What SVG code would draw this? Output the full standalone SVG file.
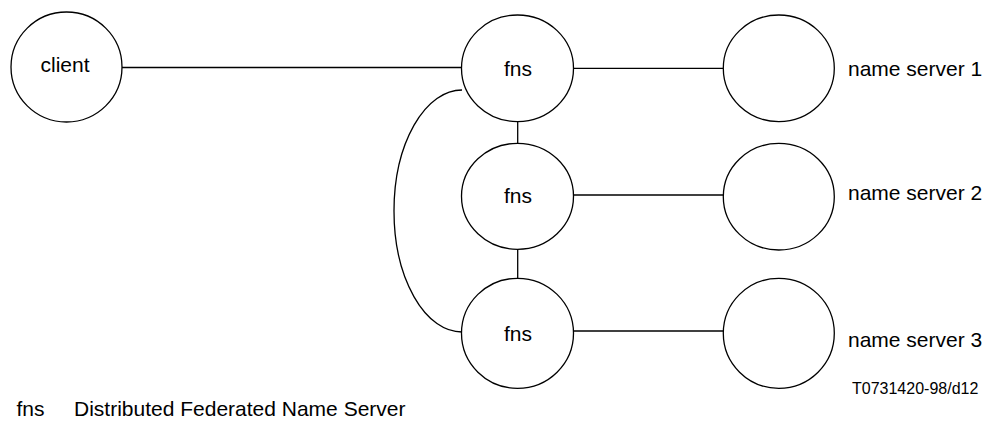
<svg xmlns="http://www.w3.org/2000/svg" width="984" height="421" viewBox="0 0 984 421">
<style>
.n{fill:#fff;stroke:#000;stroke-width:1.3}
.c{fill:none;stroke:#000;stroke-width:1.3}
text{font-family:"Liberation Sans",Arial,sans-serif;font-size:21px;fill:#000}
.m{text-anchor:middle}
</style>
<rect width="984" height="421" fill="#fff"/>
<g id="connectors">
<line class="c" x1="122" y1="67.5" x2="462" y2="67.5"/>
<line class="c" x1="573" y1="68.3" x2="723" y2="68.3"/>
<line class="c" x1="573" y1="195" x2="723" y2="195"/>
<line class="c" x1="573" y1="331" x2="723" y2="331"/>
<line class="c" x1="517.7" y1="121.5" x2="517.7" y2="143.5"/>
<line class="c" x1="517.7" y1="249" x2="517.7" y2="278.5"/>
<path class="c" d="M462,90 A68,121 0 0,0 462,332"/>
</g>
<g id="client"><ellipse class="n" cx="66.5" cy="67" rx="55.5" ry="55"/><text class="m" x="65" y="72">client</text></g>
<g id="fns1"><ellipse class="n" cx="517.5" cy="68.3" rx="56" ry="53.3"/><text class="m" x="518" y="76">fns</text></g>
<g id="fns2"><ellipse class="n" cx="517.5" cy="196.3" rx="56" ry="53"/><text class="m" x="518" y="203">fns</text></g>
<g id="fns3"><ellipse class="n" cx="517.5" cy="333.3" rx="56" ry="55"/><text class="m" x="518" y="340.5">fns</text></g>
<g id="ns1"><ellipse class="n" cx="778.8" cy="68.3" rx="55.5" ry="53.3"/></g>
<g id="ns2"><ellipse class="n" cx="778.8" cy="196.7" rx="55.5" ry="53.3"/></g>
<g id="ns3"><ellipse class="n" cx="778.8" cy="333.3" rx="55.5" ry="55"/></g>
<text x="848" y="76">name server 1</text>
<text x="848" y="200">name server 2</text>
<text x="848" y="346.5">name server 3</text>
<text x="852" y="394" style="font-size:16px">T0731420-98/d12</text>
<text x="16.5" y="416">fns</text>
<text x="74" y="416">Distributed Federated Name Server</text>
</svg>
